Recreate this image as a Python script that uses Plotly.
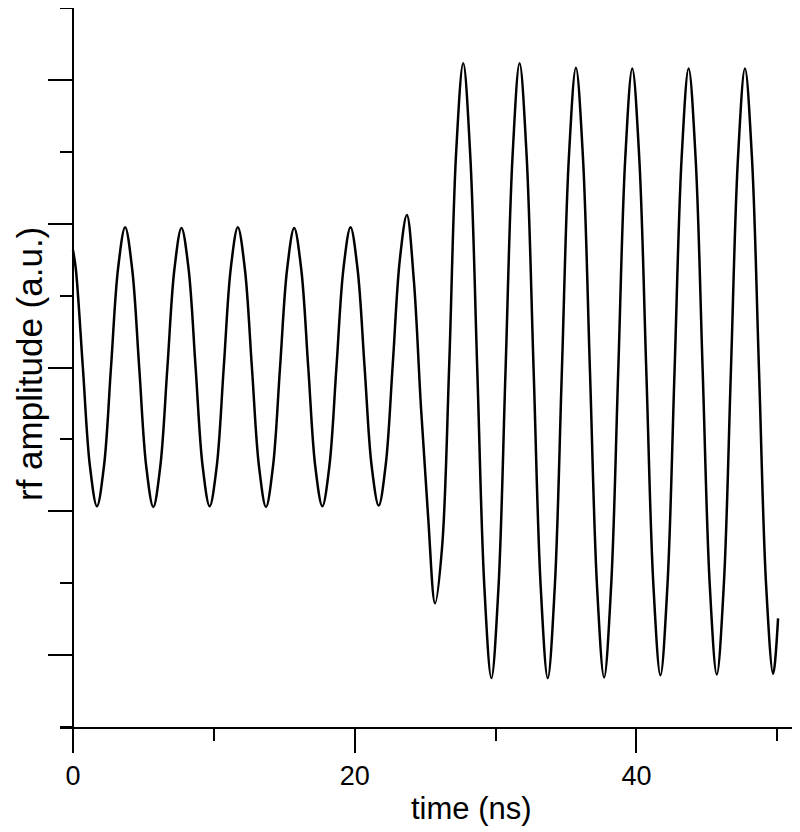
import plotly.graph_objects as go

# time axis (ns)
time_ns = [0.0,
    0.2, 0.7, 1.2, 1.7, 2.2, 2.7, 3.2, 3.7,
    4.2, 4.7, 5.2, 5.7, 6.2, 6.7, 7.2, 7.7,
    8.2, 8.7, 9.2, 9.7, 10.2, 10.7, 11.2, 11.7,
    12.2, 12.7, 13.2, 13.7, 14.2, 14.7, 15.2, 15.7,
    16.2, 16.7, 17.2, 17.7, 18.2, 18.7, 19.2, 19.7,
    20.2, 20.7, 21.2, 21.7, 22.2, 22.7, 23.2, 23.7,
    24.2, 24.7, 25.2, 25.7, 26.2, 26.7, 27.2, 27.7,
    28.2, 28.7, 29.2, 29.7, 30.2, 30.7, 31.2, 31.7,
    32.2, 32.7, 33.2, 33.7, 34.2, 34.7, 35.2, 35.7,
    36.2, 36.7, 37.2, 37.7, 38.2, 38.7, 39.2, 39.7,
    40.2, 40.7, 41.2, 41.7, 42.2, 42.7, 43.2, 43.7,
    44.2, 44.7, 45.2, 45.7, 46.2, 46.7, 47.2, 47.7,
    48.2, 48.7, 49.2, 49.7,
    50.05]

# rf amplitude (a.u.)
rf_amplitude = [6.63,
    6.37, 5.00, 3.63, 3.07, 3.63, 5.01, 6.38, 6.95,
    6.37, 5.00, 3.62, 3.06, 3.63, 5.00, 6.37, 6.94,
    6.38, 5.01, 3.63, 3.07, 3.62, 5.00, 6.38, 6.95,
    6.37, 5.00, 3.63, 3.06, 3.63, 5.01, 6.37, 6.94,
    6.37, 5.00, 3.62, 3.07, 3.63, 5.00, 6.38, 6.95,
    6.37, 5.00, 3.63, 3.08, 3.65, 5.05, 6.50, 7.12,
    6.20, 4.45, 2.95, 1.72, 2.50, 5.00, 8.00, 9.23,
    7.95, 4.95, 1.95, 0.68, 1.93, 4.93, 7.93, 9.23,
    7.95, 4.95, 1.95, 0.68, 1.95, 4.93, 7.92, 9.17,
    7.92, 4.93, 1.95, 0.69, 1.96, 4.93, 7.90, 9.16,
    7.90, 4.93, 1.97, 0.72, 1.98, 4.94, 7.90, 9.16,
    7.90, 4.94, 1.98, 0.73, 1.98, 4.94, 7.90, 9.16,
    7.90, 4.94, 1.98, 0.74,
    1.51]

x_major_ticks = [0, 20, 40]
x_major_labels = ["0", "20", "40"]
x_minor_ticks = [10, 30, 50]
y_major_ticks = [1, 3, 5, 7, 9]
y_minor_ticks = [0, 2, 4, 6, 8, 10]

FONT = "Liberation Sans, Arial, sans-serif"

# the page body has an 8px margin, so the figure is 792x824
PLOT_W, PLOT_H = 733, 719
fig = go.Figure()
fig.add_trace(go.Scatter(
    x=time_ns, y=rf_amplitude, mode="lines",
    line=dict(color="black", width=2.5, shape="spline", smoothing=1.0),
    showlegend=False, hoverinfo="skip",
))

fig.update_layout(
    width=792, height=824,
    margin=dict(l=52, r=7, t=0, b=105, autoexpand=False),
    paper_bgcolor="white", plot_bgcolor="white",
    font=dict(family=FONT, size=27, color="black"),
    xaxis=dict(
        range=[-0.923, 51.11], showgrid=False, zeroline=False,
        showline=True, linecolor="black", linewidth=2,
        tickmode="array", tickvals=x_major_ticks, ticktext=x_major_labels,
        ticks="outside", ticklen=24, tickwidth=2, tickcolor="black",
        tickfont=dict(family=FONT, size=27, color="black"),
        minor=dict(tickmode="array", tickvals=x_minor_ticks, ticks="outside",
                   ticklen=12, tickwidth=2, tickcolor="black", showgrid=False),
        anchor="y",
    ),
    yaxis=dict(
        range=[0, 10], showgrid=False, zeroline=False,
        showline=True, linecolor="black", linewidth=2,
        tickmode="array", tickvals=y_major_ticks, showticklabels=False,
        ticks="outside", ticklen=24, tickwidth=2, tickcolor="black",
        minor=dict(tickmode="array", tickvals=y_minor_ticks, ticks="outside",
                   ticklen=12, tickwidth=2, tickcolor="black", showgrid=False),
        anchor="free", position=13 / PLOT_W,
    ),
    annotations=[
        dict(text="time (ns)", xref="paper", yref="paper",
             x=(471 - 60) / PLOT_W, y=(727 - 808) / PLOT_H,
             xanchor="center", yanchor="middle", showarrow=False,
             font=dict(family=FONT, size=31, color="black")),
        dict(text="rf amplitude (a.u.)", xref="paper", yref="paper",
             x=(29 - 60) / PLOT_W, y=(727 - 364) / PLOT_H, textangle=-90,
             xanchor="center", yanchor="middle", showarrow=False,
             borderpad=0,
             font=dict(family=FONT, size=35, color="black")),
    ],
)

fig.write_html("out.html")
